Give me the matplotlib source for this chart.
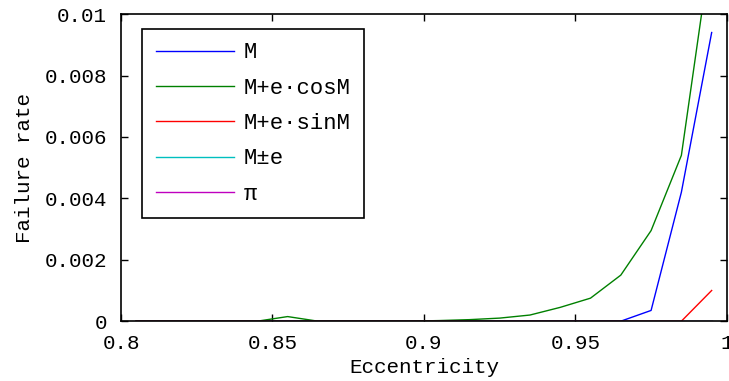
import matplotlib
matplotlib.use("Agg")
import matplotlib.pyplot as plt

ecc = [0.805, 0.815, 0.825, 0.835, 0.845, 0.855, 0.865, 0.875, 0.885, 0.895,
       0.905, 0.915, 0.925, 0.935, 0.945, 0.955, 0.965, 0.975, 0.985, 0.995]
rate_M = [0, 0, 0, 0, 0, 0, 0, 0, 0, 0,
          0, 0, 0, 0, 0, 0, 0, 0.00035, 0.0042, 0.0094]
rate_Mcos = [0, 0, 0, 0, 0, 0.00015, 0, 0, 0, 0,
             0.00002, 0.00005, 0.0001, 0.0002, 0.00045, 0.00075, 0.0015, 0.00295, 0.0054, 0.0123]
rate_Msin = [0, 0, 0, 0, 0, 0, 0, 0, 0, 0,
             0, 0, 0, 0, 0, 0, 0, 0, 0, 0.001]
rate_Mpm = [0] * 20
rate_pi = [0] * 20

labels = ["M", "M+e\u00b7cosM", "M+e\u00b7sinM", "M\u00b1e", "\u03c0"]
colors = ["#0000ff", "#008000", "#ff0000", "#00bfbf", "#bf00bf"]
series = [rate_M, rate_Mcos, rate_Msin, rate_Mpm, rate_pi]

plt.rcParams['font.family'] = ['Liberation Mono', 'DejaVu Sans Mono']
plt.rcParams['font.size'] = 15

fig = plt.figure(figsize=(7.29, 3.81), dpi=100)
ax = fig.add_axes([0.166, 0.157, 0.831, 0.806])
for y, c, l in zip(series, colors, labels):
    ax.plot(ecc, y, color=c, lw=1.0, label=l)

ax.set_xlim(0.8, 1.0)
ax.set_ylim(0, 0.01)
ax.set_xticks([0.8, 0.85, 0.9, 0.95, 1.0])
ax.set_xticklabels(["0.8", "0.85", "0.9", "0.95", "1"])
ax.set_yticks([0, 0.002, 0.004, 0.006, 0.008, 0.01])
ax.set_yticklabels(["0", "0.002", "0.004", "0.006", "0.008", "0.01"])
ax.tick_params(direction='in', top=True, right=True, length=5, width=1)
ax.tick_params(axis='x', pad=9)
ax.tick_params(axis='y', pad=10)
for s in ax.spines.values():
    s.set_linewidth(1.2)
ax.set_xlabel("Eccentricity", labelpad=4)
ax.set_ylabel("Failure rate", labelpad=8)

leg = ax.legend(loc='upper left', bbox_to_anchor=(0.035, 0.951), borderaxespad=0,
                frameon=True, fancybox=False, prop={'size': 16},
                edgecolor='black', framealpha=1, handlelength=3.55, labelspacing=0.645,
                borderpad=0.6, handletextpad=0.42)
leg.get_frame().set_linewidth(1.2)

fig.savefig("out.png", dpi=100)
